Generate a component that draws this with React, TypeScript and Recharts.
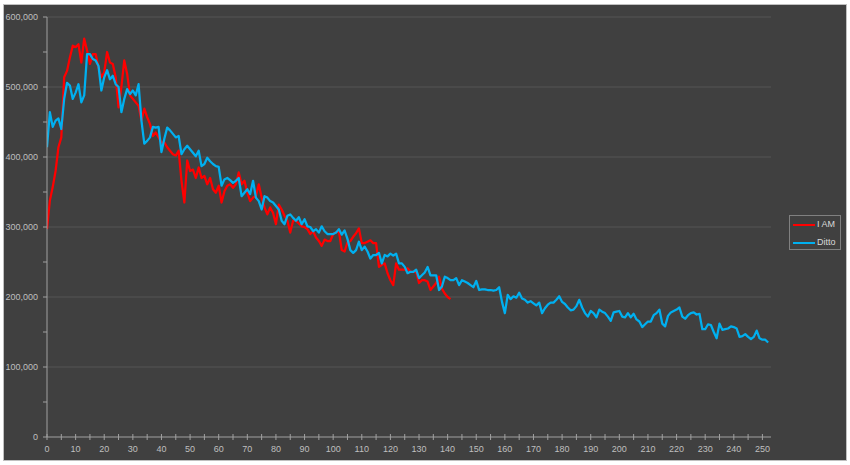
import React from "react";
import { LineChart, Line, XAxis, YAxis, ReferenceLine, Legend } from "recharts";

// values in thousands
const iamValues: number[] = [
  297, 338, 357, 380, 414, 428, 514, 523, 542, 559,
  557, 561, 535, 569, 552, 533, 547, 547, 528, 514,
  521, 550, 535, 533, 514, 471, 500, 538, 519, 488,
  483, 478, 473, 452, 469, 457, 447, 430, 435, 428,
  421, 421, 414, 409, 404, 402, 409, 366, 335, 395,
  380, 382, 370, 385, 370, 373, 361, 370, 354, 349,
  359, 335, 351, 359, 361, 356, 361, 378, 361, 366,
  349, 337, 342, 344, 361, 342, 328, 318, 328, 320,
  304, 332, 325, 316, 309, 292, 309, 309, 305, 301,
  300, 297, 290, 294, 285, 280, 273, 282, 280, 280,
  290, 292, 294, 267, 265, 278, 280, 286, 291, 298,
  277, 277, 279, 281, 277, 277, 243, 246, 248, 234,
  224, 217, 248, 239, 239, 239, 241, 236, 236, 236,
  220, 224, 224, 222, 210, 215, 220, 229, 212, 205,
  200, 197,
];

const dittoValues: number[] = [
  414, 464, 443, 452, 455, 440, 483, 506, 502, 483,
  492, 504, 478, 488, 547, 547, 540, 538, 530, 495,
  514, 524, 511, 516, 504, 500, 464, 483, 497, 490,
  495, 488, 504, 452, 419, 423, 428, 443, 442, 443,
  407, 426, 442, 438, 433, 428, 430, 404, 411, 416,
  411, 406, 401, 409, 387, 390, 399, 394, 390, 387,
  386, 359, 368, 370, 367, 363, 366, 370, 344, 349,
  354, 347, 366, 342, 337, 325, 344, 342, 337, 335,
  330, 325, 309, 304, 316, 318, 313, 309, 314, 304,
  311, 301, 300, 294, 297, 292, 301, 294, 290, 290,
  290, 292, 297, 289, 295, 283, 267, 263, 267, 279,
  267, 272, 265, 255, 260, 260, 263, 248, 260, 258,
  262, 259, 262, 248, 248, 243, 234, 236, 236, 239,
  227, 231, 235, 243, 231, 231, 231, 210, 215, 229,
  227, 224, 224, 227, 217, 224, 222, 220, 217, 214,
  223, 210, 211, 211, 210, 210, 209, 210, 214, 193,
  177, 203, 197, 201, 199, 206, 198, 196, 192, 194,
  191, 188, 192, 177, 184, 189, 192, 192, 196, 201,
  193, 190, 185, 181, 182, 187, 196, 185, 177, 172,
  180, 177, 171, 182, 179, 177, 172, 166, 178, 179,
  180, 172, 171, 177, 171, 176, 168, 165, 157, 161,
  165, 165, 174, 177, 182, 162, 158, 173, 178, 180,
  182, 185, 172, 169, 174, 177, 178, 175, 176, 154,
  154, 161, 160, 150, 141, 162, 153, 154, 155, 158,
  157, 155, 143, 144, 147, 143, 140, 143, 152, 141,
  139, 139, 135,
];

const xTicks: number[] = Array.from({ length: 51 }, (_, i) => i * 5);
const yTicks: number[] = Array.from({ length: 13 }, (_, i) => i * 50000);
const gridValues: number[] = [100000, 200000, 300000, 400000, 500000, 600000];

const iamData = iamValues.map((v, i) => ({ x: i, v: v * 1000 }));
const dittoData = dittoValues.map((v, i) => ({ x: i, v: v * 1000 }));

const FONT = "'Liberation Sans', Arial, sans-serif";
const AXIS = "#a0a0a0";
const LABEL = "#bfbfbf";

const XTick = (props: any) => {
  const { x, y, payload } = props;
  const major = payload.value % 10 === 0;
  return (
    <g>
      <line x1={x} x2={x} y1={y - 3} y2={y + 3} stroke={AXIS} strokeWidth={1} />
      {major && (
        <text x={x} y={y + 15} textAnchor="middle" fill={LABEL} fontSize={9} fontFamily={FONT}>
          {payload.value}
        </text>
      )}
    </g>
  );
};

const YTick = (props: any) => {
  const { x, y, payload } = props;
  const major = payload.value % 100000 === 0;
  return (
    <g>
      <line x1={x - 4} x2={x} y1={y} y2={y} stroke={AXIS} strokeWidth={1} />
      {major && (
        <text x={x - 9} y={y + 3} textAnchor="end" fill={LABEL} fontSize={9} fontFamily={FONT}>
          {payload.value.toLocaleString("en-US")}
        </text>
      )}
    </g>
  );
};

const LegendBox = () => (
  <div
    style={{
      width: 52,
      height: 35,
      border: "1px solid #808080",
      boxSizing: "border-box",
      position: "relative",
      fontFamily: FONT,
      fontSize: 9,
      color: "#d9d9d9",
    }}
  >
    <div style={{ position: "absolute", left: 3, top: 8, width: 22, height: 2, background: "#ff0000" }} />
    <div style={{ position: "absolute", left: 27, top: 3, lineHeight: "11px" }}>I AM</div>
    <div style={{ position: "absolute", left: 3, top: 26, width: 22, height: 2, background: "#00b0f0" }} />
    <div style={{ position: "absolute", left: 27, top: 21, lineHeight: "11px" }}>Ditto</div>
  </div>
);

export default function App() {
  return (
    <div style={{ position: "relative", width: 850, height: 465, background: "#ffffff", overflow: "hidden" }}>
      <style>{"body{margin:0}"}</style>
      <div
        style={{
          position: "absolute",
          left: 3,
          top: 4,
          width: 844,
          height: 457,
          background: "#404040",
          border: "1px solid #c0c0c0",
          boxSizing: "border-box",
        }}
      />
      <div style={{ position: "absolute", left: 0, top: 0 }}>
        <LineChart width={850} height={465} margin={{ top: 17, right: 79, bottom: 8, left: 7 }}>
          {gridValues.map((g) => (
            <ReferenceLine key={g} y={g} stroke="#555555" strokeWidth={1} ifOverflow="extendDomain" />
          ))}
          <XAxis
            type="number"
            dataKey="x"
            domain={[0, 253]}
            ticks={xTicks}
            interval={0}
            height={20}
            tickSize={0}
            tickMargin={0}
            tickLine={false}
            axisLine={{ stroke: AXIS, strokeWidth: 1 }}
            tick={<XTick />}
            allowDataOverflow
          />
          <YAxis
            type="number"
            domain={[0, 600000]}
            ticks={yTicks}
            interval={0}
            width={40}
            tickSize={0}
            tickMargin={0}
            tickLine={false}
            axisLine={{ stroke: AXIS, strokeWidth: 1 }}
            tick={<YTick />}
          />
          <Line
            data={iamData}
            dataKey="v"
            name="I AM"
            stroke="#ff0000"
            strokeWidth={2.25}
            dot={false}
            activeDot={false}
            strokeLinejoin="round"
            isAnimationActive={false}
          />
          <Line
            data={dittoData}
            dataKey="v"
            name="Ditto"
            stroke="#00b0f0"
            strokeWidth={2.25}
            dot={false}
            activeDot={false}
            strokeLinejoin="round"
            isAnimationActive={false}
          />
          <Legend
            layout="vertical"
            align="center"
            verticalAlign="middle"
            wrapperStyle={{ left: 789, top: 215, width: 52, height: 35 }}
            content={<LegendBox />}
          />
        </LineChart>
      </div>
    </div>
  );
}
